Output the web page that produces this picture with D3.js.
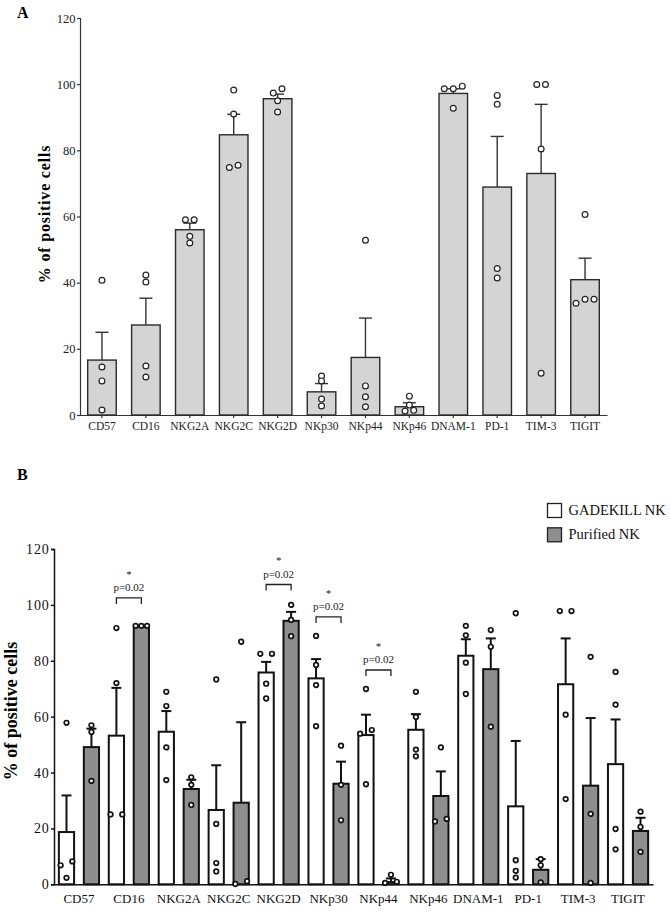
<!DOCTYPE html>
<html>
<head>
<meta charset="utf-8">
<script src="https://cdn.jsdelivr.net/npm/d3@7"></script>
<style>
  body { margin: 0; background: #fff; }
  svg { display: block; font-family: "Liberation Serif", "Times New Roman", serif; }
</style>
</head>
<body>
<div id="chart"></div>
<script>
// markers shown on both panels
const markers = ["CD57", "CD16", "NKG2A", "NKG2C", "NKG2D", "NKp30", "NKp44", "NKp46", "DNAM-1", "PD-1", "TIM-3", "TIGIT"];
const ticksY = [0, 20, 40, 60, 80, 100, 120];
const serif = "'Liberation Serif', 'Times New Roman', serif";

// panel A: GADEKILL NK, mean, SEM and single donors
const meanA = [16.6, 27.2, 56, 84.7, 95.6, 7.0, 17.4, 2.5, 97.2, 68.9, 73, 40.9];
const semA = [8.4, 8.1, 2, 6.2, 1.4, 2.5, 11.9, 1.2, 1.4, 15.3, 20.9, 6.5];
const dotsA = [
  [40.7, 14.5, 10.3, 1.5],
  [42.3, 40.2, 14.8, 11.5],
  [59, 59, 54, 52],
  [98.2, 91, 74.8, 75.5],
  [98.6, 97.3, 95, 91.6],
  [11.8, 10.3, 4.8, 2.7],
  [52.8, 8.8, 5.5, 2.5],
  [5.7, 3, 1.2, 1.4],
  [99.4, 98.6, 98.6, 92.7],
  [96.6, 93.9, 44.3, 41.4],
  [99.9, 99.9, 80.4, 12.6],
  [60.6, 35, 35, 33.8]
];

// panel B: GADEKILL NK vs purified NK
const series = ["GADEKILL NK", "Purified NK"];
const meanG = [18.7, 53.2, 54.6, 26.6, 75.8, 73.7, 53.4, 55.3, 81.8, 27.9, 71.6, 43];
const semG = [13.1, 17.1, 7.4, 16, 3.8, 6.9, 7.3, 5.6, 5.9, 23.4, 16.4, 16];
const dotsG = [
  [57.8, 8.2, 6.8, 2.3],
  [91.7, 72, 25, 25],
  [68.9, 63.8, 49, 37.3],
  [73.3, 21.6, 7.6, 4.6],
  [82.5, 82.5, 71.8, 66.5],
  [88.9, 78.5, 71.3, 56.6],
  [69.9, 55.2, 53.9, 35.8],
  [68.9, 59.9, 48.2, 45.8],
  [92.5, 89.1, 79.3, 68.1],
  [97, 8.6, 4.8, 2.4],
  [97.8, 97.8, 60.7, 30.5],
  [76, 64.3, 19.8, 12.5]
];
const meanP = [49.1, 92.2, 34.1, 29.2, 94.3, 36, 0.8, 31.6, 77, 5.2, 35.3, 19.1];
const semP = [6.6, 0.3, 3.3, 28.8, 3.2, 7.9, 1.3, 8.8, 11, 3.8, 24.2, 4.7];
const dotsP = [
  [56.9, 54.5, 37],
  [92.5, 92.5, 92.5],
  [38.3, 35.6, 28.4],
  [86.8, 0.1, 1.1],
  [100, 94.6, 88.8],
  [49.6, 35.6, 22.9],
  [3.4, 0.5, 0.9],
  [49, 23.4, 22.5],
  [91, 85, 56.4],
  [9, 6.8, 0.7],
  [81.4, 25.2, 0.5],
  [26, 20.5, 11.6]
];
// significant comparisons: marker, bracket level (%), label
const sigMarkers = ["CD16", "NKG2D", "NKp30", "NKp44"];
const sigLevels = [102.5, 107.3, 95.7, 76.7];
const sigLabel = "p=0.02";

const width = 671, height = 913;
const svg = d3.select("#chart").append("svg").attr("width", width).attr("height", height);

// spread points that would overlap horizontally, like a small beeswarm
function layoutDots(vals, y, spacing) {
  const idx = vals.map((v, i) => i).sort((a, b) => vals[a] - vals[b]);
  const off = new Array(vals.length).fill(0);
  let cluster = [idx[0]];
  const flush = () => {
    const n = cluster.length;
    const s = spacing[Math.min(n, spacing.length - 1)];
    cluster.forEach((k, j) => (off[k] = (j - (n - 1) / 2) * s));
  };
  for (let j = 1; j < idx.length; j++) {
    const prev = cluster[cluster.length - 1];
    if (Math.abs(y(vals[idx[j]]) - y(vals[prev])) < 4.6) cluster.push(idx[j]);
    else { flush(); cluster = [idx[j]]; }
  }
  flush();
  return vals.map((v, i) => ({ v, dx: off[i] }));
}

// ---------------- panel A ----------------
const yA = d3.scaleLinear().domain([0, 120]).range([415, 18]);
const xA = d3.scaleBand().domain(markers).range([80, 607]).paddingInner(0.35).paddingOuter(0.175);
const gA = svg.append("g");

gA.append("text").attr("x", 17).attr("y", 18).attr("font-weight", "bold").attr("font-size", 16).text("A");

const axA = gA.append("g").attr("transform", "translate(80,0)")
  .call(d3.axisLeft(yA).tickValues(ticksY).tickSize(3).tickPadding(1.5))
  .attr("font-family", serif);
axA.selectAll("text").attr("font-size", 12.5).attr("fill", "#222");
axA.selectAll("line,path").attr("stroke", "#333").attr("stroke-width", 1.2);

const axBA = gA.append("g").attr("transform", "translate(0,415)")
  .call(d3.axisBottom(xA).tickSize(3).tickPadding(4).tickSizeOuter(0))
  .attr("font-family", serif);
axBA.selectAll("text").attr("font-size", 11.5).attr("fill", "#222");
axBA.selectAll("line,path").attr("stroke", "#333").attr("stroke-width", 1.2);

gA.append("text")
  .attr("transform", "translate(50,214) rotate(-90)")
  .attr("text-anchor", "middle").attr("font-weight", "bold").attr("font-size", 16)
  .attr("letter-spacing", 0.8)
  .text("% of positive cells");

const barsA = gA.selectAll("g.barA").data(markers).join("g").attr("class", "barA");
barsA.append("rect")
  .attr("x", (d) => xA(d)).attr("width", xA.bandwidth())
  .attr("y", (d, i) => yA(meanA[i])).attr("height", (d, i) => yA(0) - yA(meanA[i]))
  .attr("fill", "#d4d4d4").attr("stroke", "#2a2a2a").attr("stroke-width", 1.4);
barsA.append("line")
  .attr("x1", (d) => xA(d) + xA.bandwidth() / 2).attr("x2", (d) => xA(d) + xA.bandwidth() / 2)
  .attr("y1", (d, i) => yA(meanA[i])).attr("y2", (d, i) => yA(meanA[i] + semA[i]))
  .attr("stroke", "#333").attr("stroke-width", 1.4);
barsA.append("line")
  .attr("x1", (d) => xA(d) + xA.bandwidth() / 2 - 6.5).attr("x2", (d) => xA(d) + xA.bandwidth() / 2 + 6.5)
  .attr("y1", (d, i) => yA(meanA[i] + semA[i])).attr("y2", (d, i) => yA(meanA[i] + semA[i]))
  .attr("stroke", "#333").attr("stroke-width", 1.4);
barsA.each(function (d, i) {
  const cx = xA(d) + xA.bandwidth() / 2;
  d3.select(this).selectAll("circle").data(layoutDots(dotsA[i], yA, [0, 0, 8.7, 9, 9])).join("circle")
    .attr("cx", (p) => cx + p.dx).attr("cy", (p) => yA(p.v)).attr("r", 2.9)
    .attr("fill", "#fff").attr("stroke", "#222").attr("stroke-width", 1.2);
});

// ---------------- panel B ----------------
const yB = d3.scaleLinear().domain([0, 120]).range([884.3, 549]);
const xB = d3.scaleBand().domain(markers).range([54, 653]);
const xS = d3.scaleBand().domain(series).range([0, xB.bandwidth()]).paddingInner(0.39).paddingOuter(0.195);
const fills = ["#ffffff", "#8e8e8e"];
const gB = svg.append("g");

gB.append("text").attr("x", 17).attr("y", 480).attr("font-weight", "bold").attr("font-size", 16).text("B");

const axB = gB.append("g").attr("transform", "translate(54,0)")
  .call(d3.axisLeft(yB).tickValues(ticksY).tickSize(3).tickPadding(1.5))
  .attr("font-family", serif);
axB.selectAll("text").attr("font-size", 14).attr("letter-spacing", 0.8).attr("fill", "#111");
axB.selectAll("line,path").attr("stroke", "#111").attr("stroke-width", 1.5);

const axBB = gB.append("g").attr("transform", "translate(0,884.3)")
  .call(d3.axisBottom(xB).tickSize(0).tickPadding(9))
  .attr("font-family", serif);
axBB.selectAll("text").attr("font-size", 13).attr("fill", "#111");
axBB.selectAll("path").attr("stroke", "#111").attr("stroke-width", 1.5);

gB.append("text")
  .attr("transform", "translate(17,711) rotate(-90)")
  .attr("text-anchor", "middle").attr("font-weight", "bold").attr("font-size", 18)
  .text("% of positive cells");

const groupsB = markers.map((m, i) => [
  { m, s: series[0], mean: meanG[i], sem: semG[i], dots: dotsG[i], k: 0 },
  { m, s: series[1], mean: meanP[i], sem: semP[i], dots: dotsP[i], k: 1 }
]).flat();

const barsB = gB.selectAll("g.barB").data(groupsB).join("g").attr("class", "barB")
  .attr("transform", (d) => `translate(${xB(d.m) + xS(d.s)},0)`);
const bwB = xS.bandwidth();
barsB.append("rect")
  .attr("width", bwB).attr("y", (d) => yB(d.mean)).attr("height", (d) => yB(0) - yB(d.mean))
  .attr("fill", (d) => fills[d.k]).attr("stroke", "#111").attr("stroke-width", 2);
barsB.append("line")
  .attr("x1", bwB / 2).attr("x2", bwB / 2)
  .attr("y1", (d) => yB(d.mean)).attr("y2", (d) => yB(d.mean + d.sem))
  .attr("stroke", "#111").attr("stroke-width", 2);
barsB.append("line")
  .attr("x1", bwB / 2 - 5).attr("x2", bwB / 2 + 5)
  .attr("y1", (d) => yB(d.mean + d.sem)).attr("y2", (d) => yB(d.mean + d.sem))
  .attr("stroke", "#111").attr("stroke-width", 2);
barsB.each(function (d) {
  d3.select(this).selectAll("circle").data(layoutDots(d.dots, yB, [0, 0, 11.7, 5.7, 5.7])).join("circle")
    .attr("cx", (p) => bwB / 2 + p.dx).attr("cy", (p) => yB(p.v)).attr("r", 2.3)
    .attr("fill", "#fff").attr("stroke", "#111").attr("stroke-width", 1.7);
});

// significance brackets
sigMarkers.forEach((m, i) => {
  const x1 = xB(m) + xS(series[0]) + bwB / 2;
  const x2 = xB(m) + xS(series[1]) + bwB / 2;
  const top = yB(sigLevels[i]);
  gB.append("path")
    .attr("d", `M${x1},${top + 6}V${top}H${x2}V${top + 6}`)
    .attr("fill", "none").attr("stroke", "#222").attr("stroke-width", 1.3);
  gB.append("text").attr("x", (x1 + x2) / 2).attr("y", top - 6.5)
    .attr("text-anchor", "middle").attr("font-size", 11).attr("fill", "#222").text(sigLabel);
  gB.append("text").attr("x", (x1 + x2) / 2).attr("y", top - 20)
    .attr("text-anchor", "middle").attr("font-size", 11).attr("fill", "#222").text("*");
});

// legend
const legend = gB.selectAll("g.legend").data(series).join("g").attr("class", "legend")
  .attr("transform", (d, i) => `translate(547.5,${503.5 + i * 24.3})`);
legend.append("rect").attr("width", 14).attr("height", 14)
  .attr("fill", (d, i) => fills[i]).attr("stroke", "#222").attr("stroke-width", 1.3);
legend.append("text").attr("x", 21).attr("y", 11.5).attr("font-size", 14.5).attr("fill", "#111")
  .text((d) => d);
</script>
</body>
</html>
